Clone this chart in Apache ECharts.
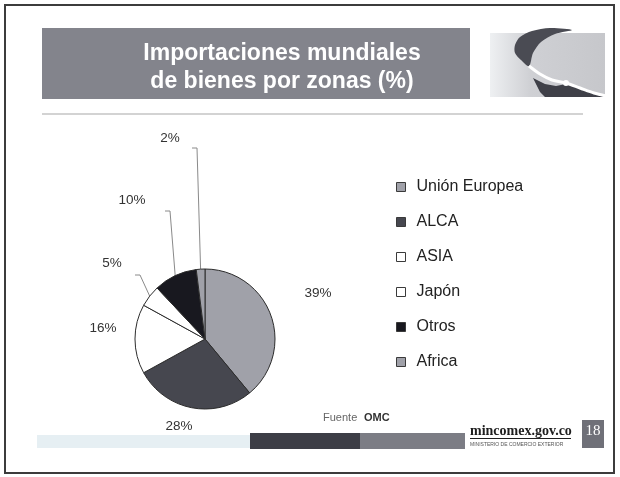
<!DOCTYPE html>
<html>
<head>
<meta charset="utf-8">
<script src="https://cdn.jsdelivr.net/npm/echarts@6/dist/echarts.min.js"></script>
<style>
  html, body { margin: 0; padding: 0; background: #ffffff; }
  #chart { width: 620px; height: 477px; }
</style>
</head>
<body>
<div id="chart"></div>
<script>
// Import shares by zone (%)
const zones = ['Unión Europea', 'ALCA', 'ASIA', 'Japón', 'Otros', 'Africa'];
const shares = [39, 28, 16, 5, 10, 2];
const sliceColors = ['#a0a1a9', '#46474f', '#ffffff', '#ffffff', '#18181f', '#a0a1a9'];

// Pie geometry (px)
const PIE_CX = 205, PIE_CY = 339, PIE_R = 70;

// Where each percentage label sits, relative to the pie centre; small slices
// get a bent leader line (knee relative to centre, then a short run left).
const labelSpots = {
  'Unión Europea': { at: [113, -46] },
  'ALCA':          { at: [-26, 87] },
  'ASIA':          { at: [-102, -11] },
  'Japón':         { at: [-93, -76],  knee: [-65, -64],  run: 5 },
  'Otros':         { at: [-73, -139], knee: [-35, -128], run: 5 },
  'Africa':        { at: [-35, -201], knee: [-8, -191],  run: 5 }
};

const total = shares.reduce((a, b) => a + b, 0);
function midAngle(i) {
  let before = 0;
  for (let k = 0; k < i; k++) before += shares[k];
  return (90 - 360 * (before + shares[i] / 2) / total) * Math.PI / 180;
}

const pieData = zones.map((name, i) => ({
  name: name,
  value: shares[i],
  itemStyle: { color: sliceColors[i] },
  labelLine: { show: !!labelSpots[name].knee }
}));

const chart = echarts.init(document.getElementById('chart'), null, { renderer: 'canvas' });

const FONT = '"Liberation Sans", Arial, sans-serif';

chart.setOption({
  animation: false,
  backgroundColor: '#ffffff',
  title: {
    text: 'Importaciones mundiales\nde bienes por zonas (%)',
    left: 277,
    top: 35,
    textAlign: 'center',
    textStyle: {
      color: '#ffffff',
      fontFamily: FONT,
      fontWeight: 'bold',
      fontSize: 23,
      lineHeight: 28
    }
  },
  legend: {
    orient: 'vertical',
    left: 391,
    top: 174,
    data: zones,
    icon: 'rect',
    itemWidth: 9,
    itemHeight: 9,
    itemGap: 19,
    selectedMode: false,
    itemStyle: { borderColor: '#3a3a3a', borderWidth: 1 },
    textStyle: {
      fontFamily: FONT,
      fontSize: 16,
      lineHeight: 16,
      color: '#222222',
      padding: [0, 0, 0, 6]
    }
  },
  graphic: [
    // slide frame
    { type: 'rect', z: -10, shape: { x: 5, y: 5, width: 609, height: 468 },
      style: { fill: '#ffffff', stroke: '#3c3c3c', lineWidth: 2 } },
    // title banner
    { type: 'rect', z: -5, shape: { x: 42, y: 28, width: 428, height: 71 },
      style: { fill: '#83848c' } },
    // emblem
    { type: 'rect', z: -5, shape: { x: 490, y: 33, width: 115, height: 64 },
      style: { fill: new echarts.graphic.LinearGradient(0, 0, 1, 0, [
        { offset: 0, color: '#eef0f2' }, { offset: 0.35, color: '#cfd0d4' }, { offset: 1, color: '#c6c7cb' }]) } },
    { type: 'polygon', z: -4, shape: { smooth: 0.3, points: [[515, 45], [520, 37], [532, 31], [550, 28], [572, 30],
      [555, 34], [541, 42], [533, 53], [529, 66], [521, 60], [515, 53]] },
      style: { fill: '#4a4b53' } },
    { type: 'polygon', z: -4, shape: { points: [[533, 78], [545, 84], [556, 86], [566, 84], [580, 88], [592, 93],
      [604, 97], [545, 97], [540, 92]] },
      style: { fill: '#3f4048' } },
    { type: 'polyline', z: -3, shape: { smooth: 0.3, points: [[529, 66], [540, 74], [552, 80], [566, 83], [580, 88],
      [594, 93], [606, 96]] },
      style: { stroke: '#ffffff', lineWidth: 3 } },
    { type: 'circle', z: -3, shape: { cx: 566, cy: 83, r: 3 }, style: { fill: '#ffffff' } },
    // separator under the banner
    { type: 'line', z: -5, shape: { x1: 42, y1: 114, x2: 583, y2: 114 },
      style: { stroke: '#c4c4c4', lineWidth: 1.5 } },
    // footer bars
    { type: 'rect', z: -5, shape: { x: 37, y: 435, width: 213, height: 13 },
      style: { fill: '#e6eff3' } },
    { type: 'rect', z: -5, shape: { x: 250, y: 433, width: 110, height: 16 },
      style: { fill: '#3d3e46' } },
    { type: 'rect', z: -5, shape: { x: 360, y: 433, width: 105, height: 16 },
      style: { fill: '#7c7d85' } },
    // source note
    { type: 'text', z: 5, x: 323, y: 418, style: { text: 'Fuente', fill: '#666666',
      font: '11px ' + FONT, textVerticalAlign: 'middle' } },
    { type: 'text', z: 5, x: 364, y: 418, style: { text: 'OMC', fill: '#333333',
      font: 'bold 11px ' + FONT, textVerticalAlign: 'middle' } },
    // site signature
    { type: 'text', z: 5, x: 470, y: 431, style: { text: 'mincomex.gov.co', fill: '#1e1e1e',
      font: 'bold 14px "Liberation Serif", "DejaVu Serif", serif', textVerticalAlign: 'middle' } },
    { type: 'line', z: 5, shape: { x1: 470, y1: 438.5, x2: 571, y2: 438.5 },
      style: { stroke: '#1e1e1e', lineWidth: 1 } },
    { type: 'text', z: 5, x: 470, y: 445, style: { text: 'MINISTERIO DE COMERCIO EXTERIOR', fill: '#555555',
      font: '5px ' + FONT, textVerticalAlign: 'middle' } },
    { type: 'rect', z: 4, shape: { x: 582, y: 420, width: 22, height: 28 },
      style: { fill: '#6f7078' } },
    { type: 'text', z: 5, x: 593, y: 431, style: { text: '18', fill: '#ffffff',
      font: '15px "Liberation Serif", serif', textAlign: 'center', textVerticalAlign: 'middle' } }
  ],
  series: [{
    type: 'pie',
    center: [PIE_CX, PIE_CY],
    radius: PIE_R,
    startAngle: 90,
    clockwise: true,
    avoidLabelOverlap: false,
    silent: true,
    itemStyle: { borderColor: '#2c2c2c', borderWidth: 1 },
    label: {
      show: true,
      position: 'outside',
      formatter: '{c}%',
      fontFamily: FONT,
      fontSize: 13.5,
      color: '#333333'
    },
    labelLine: {
      show: true,
      length: 10,
      length2: 5,
      lineStyle: { color: '#8a8a8a', width: 1 }
    },
    labelLayout: function (params) {
      const name = zones[params.dataIndex];
      const spot = labelSpots[name];
      const out = {
        x: PIE_CX + spot.at[0],
        y: PIE_CY + spot.at[1],
        align: 'center',
        verticalAlign: 'middle'
      };
      if (spot.knee) {
        const a = midAngle(params.dataIndex);
        const ex = PIE_CX + PIE_R * Math.cos(a);
        const ey = PIE_CY - PIE_R * Math.sin(a);
        const kx = PIE_CX + spot.knee[0];
        const ky = PIE_CY + spot.knee[1];
        out.labelLinePoints = [[ex, ey], [kx, ky], [kx - spot.run, ky]];
      }
      return out;
    },
    data: pieData
  }]
});
</script>
</body>
</html>
